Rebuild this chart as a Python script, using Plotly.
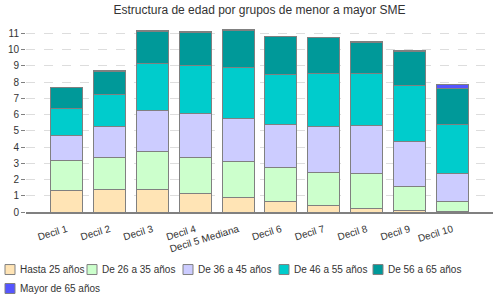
import plotly.graph_objects as go

deciles = ['Decil 1', 'Decil 2', 'Decil 3', 'Decil 4', 'Decil 5 Mediana',
           'Decil 6', 'Decil 7', 'Decil 8', 'Decil 9', 'Decil 10']

hasta_25 = [1.35, 1.41, 1.41, 1.11, 0.92, 0.66, 0.43, 0.23, 0.10, 0.01]
de_26_35 = [1.85, 1.97, 2.32, 2.27, 2.19, 2.11, 2.03, 2.17, 1.50, 0.65]
de_36_45 = [1.53, 1.89, 2.54, 2.69, 2.67, 2.64, 2.83, 2.93, 2.74, 1.74]
de_46_55 = [1.66, 1.96, 2.89, 2.95, 3.11, 3.07, 3.26, 3.22, 3.47, 3.01]
de_56_65 = [1.27, 1.42, 1.99, 2.07, 2.32, 2.32, 2.19, 1.88, 2.09, 2.21]
mayor_65 = [0.04, 0.04, 0.05, 0.04, 0.05, 0.03, 0.04, 0.05, 0.04, 0.25]

series_names = ['Hasta 25 años', 'De 26 a 35 años', 'De 36 a 45 años',
                'De 46 a 55 años', 'De 56 a 65 años', 'Mayor de 65 años']
series_values = [hasta_25, de_26_35, de_36_45, de_46_55, de_56_65, mayor_65]
colors = ['#FFE4B5', '#CCFFCC', '#CCCCFF', '#00CCCC', '#009999', '#5555FF']

y_ticks = list(range(0, 12))

font_family = 'Liberation Sans, Arial, sans-serif'
border = '#808080'

fig = go.Figure()

for name, values, color in zip(series_names, series_values, colors):
    fig.add_trace(go.Bar(
        x=deciles,
        y=values,
        name=name,
        marker=dict(color=color, line=dict(color=border, width=1)),
        showlegend=False,
    ))

# legend drawn by hand so that five entries fit on the first row
legend_x = [5, 87, 183, 279, 373, 5]
legend_y = [270, 270, 270, 270, 270, 289]
shapes = []
annotations = []
for name, color, lx, ly in zip(series_names, colors, legend_x, legend_y):
    shapes.append(dict(
        type='rect', xref='paper', yref='paper',
        x0=(lx - 26) / 467, x1=(lx - 16) / 467,
        y0=(212.3 - ly - 5) / 185.5, y1=(212.3 - ly + 5) / 185.5,
        fillcolor=color, line=dict(color=border, width=1),
    ))
    annotations.append(dict(
        text=name, xref='paper', yref='paper',
        x=(lx - 13) / 467, y=(212.3 - ly) / 185.5,
        xanchor='left', yanchor='middle', showarrow=False,
        font=dict(size=10, color='#333333', family=font_family),
    ))

fig.update_layout(
    title=dict(
        text='Estructura de edad por grupos de menor a mayor SME',
        x=0.5, xref='paper', xanchor='center', y=0.967, yanchor='middle',
        font=dict(size=12, color='#333333', family=font_family),
    ),
    barmode='stack',
    bargap=0.25,
    width=500,
    height=300,
    margin=dict(l=26, r=7, t=27, b=87.7),
    paper_bgcolor='white',
    plot_bgcolor='white',
    font=dict(family=font_family, size=10, color='#333333'),
    xaxis=dict(
        range=[-0.95, 9.95],
        tickangle=-17,
        ticklabelstandoff=6,
        showgrid=False,
        showline=True,
        linecolor=border,
        linewidth=1.5,
        ticks='',
        tickfont=dict(size=10, color='#333333'),
    ),
    yaxis=dict(
        range=[0, 11.4],
        tickvals=y_ticks,
        showgrid=True,
        gridcolor='#DDDDDD',
        griddash='dash',
        gridwidth=1,
        zeroline=False,
        showline=False,
        ticks='outside',
        ticklen=4,
        tickcolor=border,
        tickfont=dict(size=10, color='#333333'),
    ),
    shapes=shapes,
    annotations=annotations,
)

# the page's default body margin would push the 500x300 figure out of the window
fig.write_html('out.html', config={'displayModeBar': False},
               post_script="document.body.style.margin = '0px';")
